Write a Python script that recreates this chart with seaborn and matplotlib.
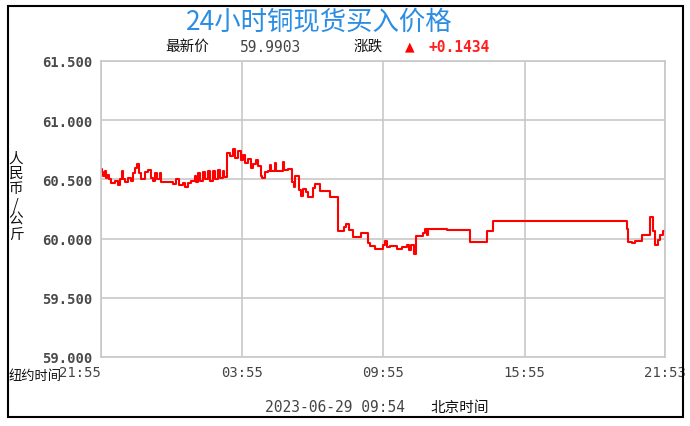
import matplotlib
matplotlib.use("Agg")
import matplotlib.pyplot as plt
import seaborn as sns
import pandas as pd
from matplotlib.patches import Rectangle

# minutes since 21:55 (New York time) and price (yuan / kg)
minutes = [0, 3, 5, 9, 12, 16, 20, 26, 35, 43, 49, 54, 56, 60, 69, 77, 82, 86, 93, 98,
           103, 111, 120, 127, 133, 137, 144, 150, 154, 171, 184, 192, 198, 209, 215, 222,
           230, 239, 243, 247, 252, 260, 264, 273, 277, 286, 290, 298, 303, 311, 314, 320,
           328, 337, 341, 349, 358, 363, 367, 376, 382, 388, 395, 401, 407, 411, 418, 427,
           431, 433, 444, 446, 465, 467, 478, 486, 492, 495, 505, 509, 514, 523, 527, 540,
           546, 558, 584, 605, 620, 625, 633, 642, 662, 680, 686, 699, 720, 724, 729, 737,
           754, 767, 781, 786, 790, 798, 803, 822, 826, 830, 835, 881, 941, 983, 1000, 1340,
           1343, 1353, 1362, 1379, 1400, 1408, 1413, 1419, 1426, 1434, 1438]
prices = [60.59, 60.56, 60.53, 60.57, 60.51, 60.54, 60.50, 60.47, 60.49, 60.45, 60.50,
          60.57, 60.50, 60.48, 60.51, 60.49, 60.55, 60.60, 60.63, 60.55, 60.50, 60.56,
          60.58, 60.51, 60.49, 60.55, 60.50, 60.55, 60.48, 60.48, 60.46, 60.50, 60.45,
          60.47, 60.44, 60.47, 60.49, 60.53, 60.48, 60.55, 60.49, 60.56, 60.50, 60.57,
          60.49, 60.57, 60.50, 60.58, 60.51, 60.57, 60.52, 60.72, 60.70, 60.76, 60.68,
          60.74, 60.66, 60.71, 60.64, 60.67, 60.60, 60.63, 60.66, 60.61, 60.53, 60.51,
          60.56, 60.57, 60.62, 60.57, 60.64, 60.57, 60.65, 60.58, 60.59, 60.48, 60.44,
          60.53, 60.41, 60.36, 60.42, 60.39, 60.35, 60.43, 60.46, 60.40, 60.35, 60.06,
          60.10, 60.12, 60.07, 60.01, 60.05, 59.96, 59.94, 59.91, 59.95, 59.98, 59.93,
          59.94, 59.91, 59.93, 59.95, 59.90, 59.95, 59.87, 60.02, 60.05, 60.08, 60.03,
          60.08, 60.07, 59.97, 60.06, 60.15, 60.08, 59.97, 59.96, 59.98, 60.03, 60.18,
          60.06, 59.95, 59.99, 60.03, 60.06, 60.06]

x_ticks = [0, 360, 720, 1080, 1438]
x_labels = ["21:55", "03:55", "09:55", "15:55", "21:53"]
y_ticks = [59.0, 59.5, 60.0, 60.5, 61.0, 61.5]
y_labels = ["59.000", "59.500", "60.000", "60.500", "61.000", "61.500"]

title = "24小时铜现货买入价格"
latest_label, latest_value = "最新价", "59.9903"
change_label, change_value = "涨跌", "+0.1434"
y_axis_label = "人民币/公斤"
ny_label = "纽约时间"
stamp, bj_label = "2023-06-29 09:54", "北京时间"

sns.set_theme(style="white")
plt.rcParams["font.family"] = ["Noto Sans CJK SC", "DejaVu Sans"]

W, H = 690, 427
fig = plt.figure(figsize=(W / 100, H / 100), dpi=100)
fig.patch.set_facecolor("white")

def fx(px):
    return px / W

def fy(py):
    return 1 - py / H

ax = fig.add_axes([fx(101), fy(358), fx(665) - fx(101), fy(62) - fy(358)])

df = pd.DataFrame({"t": minutes, "p": prices})
sns.lineplot(data=df, x="t", y="p", ax=ax, color="#ff0000", linewidth=1.5,
             drawstyle="steps-post", estimator=None, sort=False)

ax.set_xlim(0, 1438)
ax.set_ylim(59.0, 61.5)
ax.set_xticks(x_ticks)
ax.set_xticklabels(x_labels, family="DejaVu Sans Mono", fontsize=10, color="#444444")
ax.set_yticks(y_ticks)
ax.set_yticklabels(y_labels, family="DejaVu Sans Mono", fontsize=10,
                   fontweight="bold", color="#4a4a4a")
ax.get_xticklabels()[0].set_horizontalalignment("right")
ax.tick_params(axis="x", length=0, pad=6)
ax.tick_params(axis="y", length=0, pad=6)
ax.set_xlabel("")
ax.set_ylabel("")
ax.grid(True, color="#c8c8c8", linewidth=1.2)
for s in ax.spines.values():
    s.set_color("#c8c8c8")
    s.set_linewidth(1.2)

# outer border
fig.patches.append(Rectangle((fx(8), fy(418)), fx(683) - fx(8), fy(7) - fy(418),
                             transform=fig.transFigure, fill=False,
                             edgecolor="black", linewidth=1.5))

fig.text(fx(319), fy(22), title, ha="center", va="center", fontsize=19,
         color="#2b8de3")
fig.text(fx(165), fy(47), latest_label, ha="left", va="center", fontsize=10.5, color="#111111")
fig.text(fx(240), fy(47), latest_value, ha="left", va="center", fontsize=10.5,
         family="DejaVu Sans Mono", color="#444444")
fig.text(fx(354), fy(47), change_label, ha="left", va="center", fontsize=10.5, color="#111111")
fig.text(fx(405), fy(47), "▲", ha="left", va="center", fontsize=9,
         family="DejaVu Sans", color="#ff0000")
fig.text(fx(428), fy(47), change_value, ha="left", va="center", fontsize=10.5,
         family="DejaVu Sans Mono", fontweight="bold", color="#ff2020")

fig.text(fx(16), fy(197), "\n".join(y_axis_label), ha="center", va="center",
         fontsize=10.5, linespacing=1.12, color="#111111")
fig.text(fx(9), fy(377), ny_label, ha="left", va="center", fontsize=9.5, color="#111111")
fig.text(fx(265), fy(408), stamp, ha="left", va="center", fontsize=10.5,
         family="DejaVu Sans Mono", color="#444444")
fig.text(fx(430), fy(408), bj_label, ha="left", va="center", fontsize=10.5, color="#111111")

fig.savefig("out.png", dpi=100)
